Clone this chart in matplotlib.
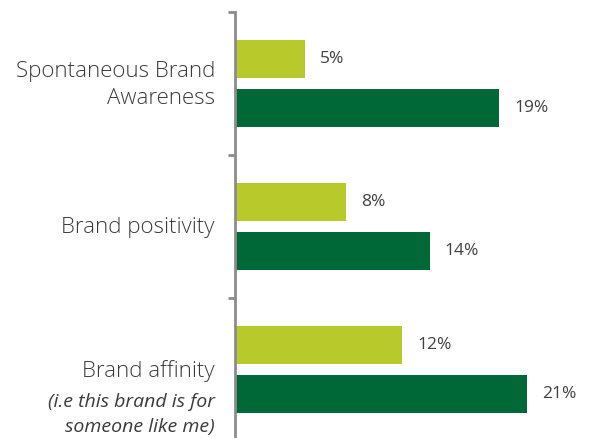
import matplotlib
matplotlib.use("Agg")
import matplotlib.pyplot as plt
import numpy as np

categories = ["Spontaneous Brand\nAwareness", "Brand positivity", "Brand affinity"]
notes = ["", "", "(i.e this brand is for\nsomeone like me)"]
series_a = [5, 8, 12]
series_b = [19, 14, 21]
light_green = "#b7c92b"
dark_green = "#006837"
grey = "#8c8c8c"

fig = plt.figure(figsize=(5.94, 4.38), dpi=100)
ax = fig.add_axes([235 / 594, -3 / 438, 1 - 235 / 594, 429 / 438])

y = np.arange(len(categories))
h = 0.265
ax.barh(y - 0.17, series_a, height=h, color=light_green)
ax.barh(y + 0.17, series_b, height=h, color=dark_green)

for yy, va, vb in zip(y, series_a, series_b):
    for off, v in ((-0.17, va), (0.17, vb)):
        ax.annotate(f"{v}%", (v, yy + off), xytext=(10.8, 0), textcoords="offset points",
                    ha="left", va="center", fontsize=12.5, color="#404040", family="Open Sans")

ax.set_xlim(0, (594 - 235) / 13.92)
ax.set_ylim(2.5, -0.5)

for s in ("top", "right", "bottom"):
    ax.spines[s].set_visible(False)
ax.spines["left"].set_color(grey)
ax.spines["left"].set_linewidth(2)
ax.set_xticks([])
ax.set_yticks([-0.5, 0.5, 1.5, 2.5])
ax.set_yticklabels([])
ax.tick_params(axis="y", length=5, width=2, color=grey, direction="out")

for yy, cat, note in zip(y, categories, notes):
    ax.text(-20 / 13.92, yy + 0.01, cat, ha="right", va="center", fontsize=16,
            color="#3a3a3a", family="Open Sans", fontweight="light", linespacing=1.33)
    if note:
        ax.text(-20 / 13.92, yy + 0.318, note, ha="right", va="center", fontsize=14,
                color="#3a3a3a", family="Open Sans", style="italic", linespacing=1.5)

fig.savefig("out.png", dpi=100)
